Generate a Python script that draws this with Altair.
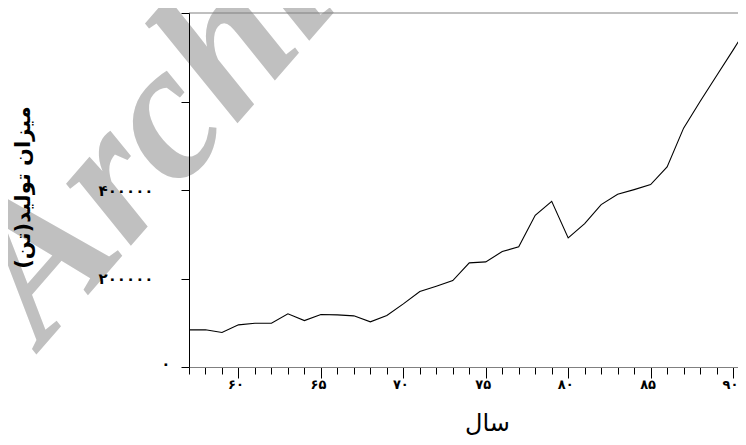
import altair as alt
import pandas as pd

# ---- data ----
years = list(range(57, 92))
production = [84000, 84000, 77900, 95300, 98900, 98900, 120200, 105000, 118600, 117900,
              115600, 102100, 116300, 142700, 170500, 182500, 195400, 235300, 237600, 260900,
              271500, 342800, 374500, 291800, 324100, 367000, 390300, 400900, 412200, 452200,
              539800, 599900, 658200, 716200, 774500]

x_ticks = list(range(57, 91))
x_tick_labels = {60: "۶۰", 65: "۶۵", 70: "۷۰", 75: "۷۵", 80: "۸۰", 85: "۸۵", 90: "۹۰"}
y_ticks = [0, 200000, 400000, 600000, 800000]
y_tick_labels = {0: "۰", 200000: "۲۰۰۰۰۰", 400000: "۴۰۰۰۰۰"}

x_title = "سال"
y_title = "میزان تولید(تن)"
watermark = ["Archive of SID"]


def label_expr(mapping):
    parts = [f"datum.value == {k} ? '{v}'" for k, v in mapping.items()]
    return " : ".join(parts) + " : ''"


df = pd.DataFrame({"year": years, "production": production})
top_df = pd.DataFrame({"production": [y_ticks[-1]]})
wm_df = pd.DataFrame({"t": watermark})

x_enc = alt.X(
    "year:Q",
    scale=alt.Scale(domain=[57, 90.3], nice=False, zero=False),
    axis=alt.Axis(
        values=x_ticks,
        labelExpr=label_expr(x_tick_labels),
        tickSize={"condition": {"test": "datum.value % 5 === 0", "value": 11}, "value": 7},
        tickColor="black",
        tickWidth=1,
        domainColor="#808080",
        labelFont="DejaVu Sans",
        labelFontWeight="bold",
        labelFontSize=13,
        labelColor="black",
        labelPadding=0,
        labelOffset=-3,
        labelFlush=False,
        labelOverlap=False,
        grid=False,
        title=x_title,
        titleFont="DejaVu Sans",
        titleFontSize=24,
        titleFontWeight="normal",
        titleColor="black",
        titleX=298,
        titleY=63,
        titleAlign="center",
        titleBaseline="alphabetic",
        zindex=1,
    ),
)

y_enc = alt.Y(
    "production:Q",
    scale=alt.Scale(domain=[0, 800000], nice=False),
    axis=alt.Axis(
        values=y_ticks,
        labelExpr=label_expr(y_tick_labels),
        tickSize=8,
        tickColor="black",
        domainColor="black",
        labelFont="DejaVu Sans",
        labelFontWeight="bold",
        labelFontSize=15,
        labelColor="black",
        labelAlign="right",
        labelBaseline="middle",
        labelPadding={"condition": {"test": "datum.value === 0", "value": 11}, "value": 28},
        labelOffset={"condition": {"test": "datum.value === 0", "value": -4}, "value": 0},
        labelFlush=False,
        labelOverlap=False,
        grid=False,
        title=y_title,
        titleFont="DejaVu Sans",
        titleFontSize=21,
        titleFontWeight="bold",
        titleColor="black",
        titleAngle=270,
        titleX=-166,
        titleY=174,
        titleAlign="center",
        titleBaseline="middle",
        zindex=1,
    ),
)

wm = alt.Chart(wm_df).mark_text(
    font="Liberation Serif", fontSize=195, fontWeight="bold",
    fontStyle="italic", color="#c0c0c0", angle=311, align="left", baseline="alphabetic",
).encode(x=alt.value(-146), y=alt.value(334), text="t:N")

top_rule = alt.Chart(top_df).mark_rule(color="#808080", strokeWidth=1).encode(y="production:Q")

line = alt.Chart(df).mark_line(color="black", strokeWidth=1.1, clip=True).encode(x=x_enc, y=y_enc)

chart = alt.layer(wm, line, top_rule).properties(
    width=549,
    height=354,
    autosize=alt.AutoSizeParams(type="none"),
    padding={"left": 181, "top": 5, "right": 0, "bottom": 70},
    background="white",
).configure_view(stroke=None)

chart.save("out.html", embed_options={"renderer": "svg", "actions": False})
